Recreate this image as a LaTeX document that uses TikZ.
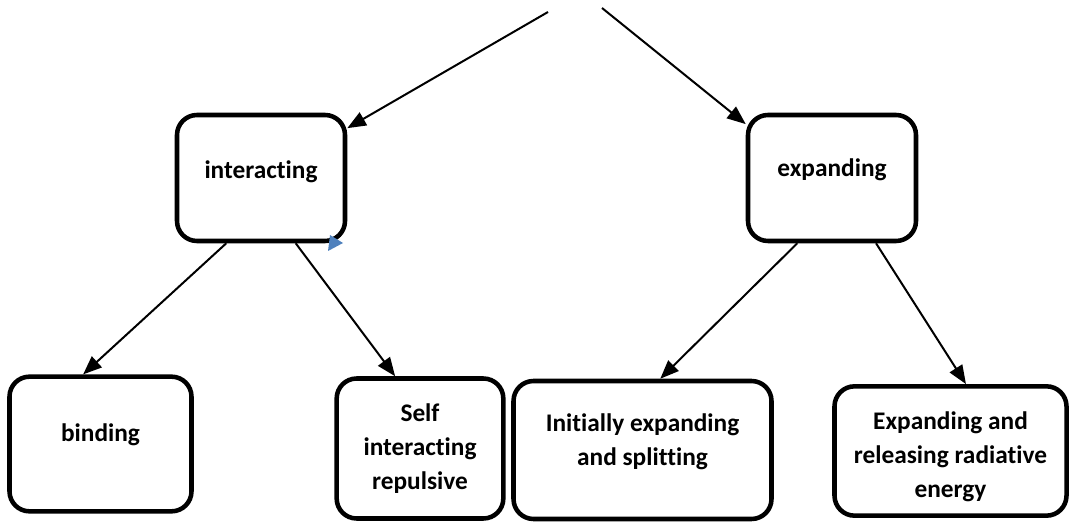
\documentclass[tikz,border=0pt]{standalone}
\usepackage{fontspec}
\setmainfont{Carlito}[RawFeature=-liga]
\usepackage{xcolor}
\usetikzlibrary{arrows.meta,shapes,calc,positioning}
\definecolor{tipblue}{HTML}{4F81BD}
\newcommand{\nudge}[2]{\raisebox{#1}[\height][\depth]{\begin{tabular}{@{}c@{}}#2\end{tabular}}}

\begin{document}
\begin{tikzpicture}[
	x=0.75pt, y=-0.75pt,
	box/.style = {shape=rectangle, rounded corners=15pt,
	draw, line width=3.4pt, align=center, inner sep=0pt,
	font=\bfseries\fontsize{19}{25.5}\selectfont},
	edge/.style={-{Triangle[length=14pt,width=11pt]}, line width=1.5pt}
]
\useasboundingbox (0,0) rectangle (1073,523);

% free ends at the top
\coordinate (srcL) at (548,12);
\coordinate (srcR) at (602,8);

\node[box, minimum width=126pt, minimum height=94.5pt] (interact) at (261,178) {\nudge{4.5pt}{interacting}};
\node[box, minimum width=126pt, minimum height=94.5pt] (expand) at (832,178) {\nudge{6pt}{expanding}};

\node[box, minimum width=136.5pt, minimum height=101pt] (bind) at (100.5,444) {\nudge{7pt}{binding}};
\node[box, minimum width=125pt, minimum height=105pt] (selfrep) at (420,448.5) {\nudge{0pt}{Self\\ interacting\\ repulsive}};
\node[box, minimum width=193.5pt, minimum height=103.5pt] (initsplit) at (642.5,450) {\nudge{6pt}{Initially expanding\\ and splitting}};
\node[box, minimum width=174pt, minimum height=97pt] (radiate) at (950.5,451) {\nudge{-4.5pt}{Expanding and\\ releasing radiative\\ energy}};

\draw[edge] (srcL) -- (interact);
\draw[edge] (srcR) -- (expand.148);
\draw[edge] (interact.242) -- (bind.104);
\draw[edge] (interact.298) -- (selfrep.109);
\draw[edge] (expand.242) -- (initsplit.76);
\draw[edge] (expand.304) -- (radiate.77);

% stray blue tip
\fill[tipblue] (330,235) -- (343,243) -- (328,251) -- cycle;
\end{tikzpicture}
\end{document}
